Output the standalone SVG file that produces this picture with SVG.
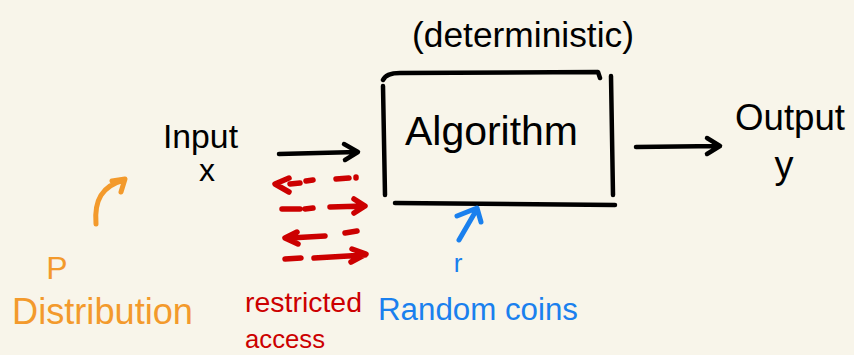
<svg xmlns="http://www.w3.org/2000/svg" width="854" height="355" viewBox="0 0 854 355">
<style>
.bg{fill:#f8f5ea}
.t{font-family:"Liberation Sans","DejaVu Sans",sans-serif}
.k{fill:#000}
.ln{fill:none;stroke-linecap:round;stroke-linejoin:round;stroke-width:4.5}
.blk{stroke:#000}
.red{stroke:#cc0000;stroke-width:5.5}
.org{stroke:#f39a2c;stroke-width:5}
.blu{stroke:#1a80ee;stroke-width:5}
</style>
<rect class="bg" x="0" y="0" width="854" height="355"/>
<g id="deterministic">
<text class="t k" x="412" y="47" font-size="35" textLength="222" lengthAdjust="spacingAndGlyphs">(deterministic)</text>
</g>
<g id="algorithm">
<path class="ln blk" d="M383,80 Q386,73 400,73 L598,72 L600,78"/>
<path class="ln blk" d="M383,86 L385,195"/>
<path class="ln blk" d="M611,76 L613,195"/>
<path class="ln blk" d="M395,203 L615,205"/>
<text class="t k" x="405" y="145" font-size="40" textLength="173" lengthAdjust="spacingAndGlyphs">Algorithm</text>
</g>
<g id="input">
<text class="t k" x="163" y="148" font-size="34" textLength="75" lengthAdjust="spacingAndGlyphs">Input</text>
<text class="t k" x="207" y="181" font-size="32" text-anchor="middle">x</text>
</g>
<g id="output">
<text class="t k" x="735" y="130" font-size="36" textLength="110" lengthAdjust="spacingAndGlyphs">Output</text>
<text class="t k" x="784" y="178" font-size="38" text-anchor="middle">y</text>
</g>
<g id="distribution">
<text class="t" fill="#f39a2c" x="57" y="279" font-size="32" text-anchor="middle">P</text>
<text class="t" fill="#f39a2c" x="12" y="324" font-size="36" textLength="181" lengthAdjust="spacingAndGlyphs">Distribution</text>
</g>
<g id="restricted-access">
<text class="t" fill="#cc0000" x="245" y="312" font-size="28" textLength="117" lengthAdjust="spacingAndGlyphs">restricted</text>
<text class="t" fill="#cc0000" x="245" y="348" font-size="26" textLength="80" lengthAdjust="spacingAndGlyphs">access</text>
</g>
<g id="random-coins">
<text class="t" fill="#1a80ee" x="458" y="272" font-size="26" text-anchor="middle">r</text>
<text class="t" fill="#1a80ee" x="378" y="320" font-size="31" textLength="200" lengthAdjust="spacingAndGlyphs">Random coins</text>
</g>
<g id="connectors">
<path class="ln blk" d="M279,154 L357,152 M344,144 L358,152 L345,160"/>
<path class="ln blk" d="M636,147 L719,146 M707,138 L720,146 L707,154"/>
<path class="ln org" d="M96,224 C94,200 102,186 124,180 M112,181 L125,179 L121,192"/>
<path class="ln blu" d="M459,240 L477,209 M457,216 L477,208 L481,222"/>
<path class="ln red" d="M289,178 L275,184 L289,192 M290,184 L300,183 M306,181 L313,180 M336,179 L349,178 M356,177 L356,178"/>
<path class="ln red" d="M282,209 L300,209 M305,209 L313,208 M330,207 L364,206 M354,199 L365,206 L354,213"/>
<path class="ln red" d="M297,232 L285,238 L298,244 M290,238 L325,236 M345,233 L357,231"/>
<path class="ln red" d="M285,259 L301,258 M314,258 L365,255 M352,249 L366,254 L351,262"/>
</g>
</svg>
